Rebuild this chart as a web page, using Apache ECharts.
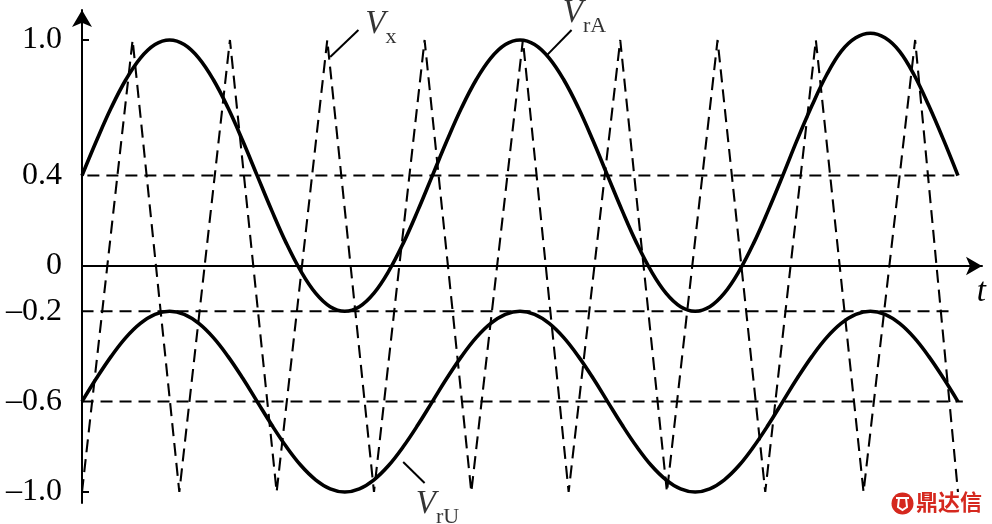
<!DOCTYPE html>
<html><head><meta charset="utf-8">
<script src="https://cdn.jsdelivr.net/npm/echarts@6/dist/echarts.min.js"></script>
<style>html,body{margin:0;padding:0;background:#fff}#c{width:992px;height:524px}</style>
</head><body><div id="c"></div>
<script>
// ---- data ----
const yTickValues = [1.0, 0.4, 0, -0.2, -0.6, -1.0];
const yTickLabels = ['1.0', '0.4', '0', '–0.2', '–0.6', '–1.0'];
const yEndTicks = [1.0, -1.0];

// triangular carrier V_x (vertices)
const triT = [0, 0.52, 1, 1.52, 2, 2.52, 3, 3.52, 4, 4.53, 5, 5.53, 6.01, 6.53, 7.02, 7.54, 8.03, 8.56, 9.0];
const triV = [-1, 1, -1, 1, -1, 1, -1, 1, -1, 1, -1, 1, -1, 1, -1, 1, -1, 1, -1];

// sampled modulating waves
const sinT = [0, 0.15, 0.3, 0.45, 0.6, 0.75, 0.9, 1.05, 1.2, 1.35, 1.5, 1.65,
  1.8, 1.95, 2.1, 2.25, 2.4, 2.55, 2.7, 2.85, 3.0, 3.15, 3.3, 3.45,
  3.6, 3.75, 3.9, 4.05, 4.2, 4.35, 4.5, 4.65, 4.8, 4.95, 5.1, 5.25,
  5.4, 5.55, 5.7, 5.85, 6.0, 6.15, 6.3, 6.45, 6.6, 6.75, 6.9, 7.05,
  7.2, 7.35, 7.5, 7.65, 7.8, 7.95, 8.1, 8.25, 8.4, 8.55, 8.7, 8.85, 9.0];
const vrA = [0.4, 0.555, 0.7, 0.824, 0.92, 0.98, 1.0, 0.98, 0.92, 0.824, 0.7, 0.555,
  0.4, 0.245, 0.1, -0.024, -0.12, -0.18, -0.2, -0.18, -0.12, -0.024, 0.1, 0.245,
  0.4, 0.555, 0.7, 0.824, 0.92, 0.98, 1.0, 0.98, 0.92, 0.824, 0.7, 0.555,
  0.4, 0.245, 0.1, -0.024, -0.12, -0.18, -0.2, -0.18, -0.12, -0.024, 0.1, 0.245,
  0.4, 0.56, 0.71, 0.845, 0.95, 1.01, 1.03, 1.01, 0.95, 0.845, 0.71, 0.56, 0.4];
const vrU = [-0.6, -0.496, -0.4, -0.317, -0.254, -0.214, -0.2, -0.214, -0.254, -0.317, -0.4, -0.496,
  -0.6, -0.704, -0.8, -0.883, -0.946, -0.986, -1.0, -0.986, -0.946, -0.883, -0.8, -0.704,
  -0.6, -0.496, -0.4, -0.317, -0.254, -0.214, -0.2, -0.214, -0.254, -0.317, -0.4, -0.496,
  -0.6, -0.704, -0.8, -0.883, -0.946, -0.986, -1.0, -0.986, -0.946, -0.883, -0.8, -0.704,
  -0.6, -0.496, -0.4, -0.317, -0.254, -0.214, -0.2, -0.214, -0.254, -0.317, -0.4, -0.496, -0.6];

// dashed reference levels and their extents (t units)
const refLevels = [0.4, -0.2, -0.6];
const refFrom = [-0.14, -0.2, -0.2];
const refTo = [8.99, 8.95, 9.05];

// annotation leaders (data coords)
const leaderVx = [[2.55, 0.925], [2.84, 1.044]];
const leaderVrA = [[4.78, 0.934], [5.03, 1.044]];
const leaderVrU = [[3.30, -0.867], [3.52, -0.96]];
const annNames = ['x', 'rA', 'rU'];
const annPos = [[2.91, 1.144], [4.94, 1.192], [3.43, -0.98]];

const zip = (a, b) => a.map((x, i) => [x, b[i]]);

const chart = echarts.init(document.getElementById('c'), null, {renderer: 'canvas'});
const black = '#000';
const serif = '"Liberation Serif", "Times New Roman", serif';

const refSeries = refLevels.map((v, i) => ({
  type: 'line', data: [[refFrom[i], v], [refTo[i], v]], symbol: 'none', clip: false, silent: true,
  lineStyle: {color: black, width: 2, type: [12, 7]}, z: 2
}));
const leaderSeries = [leaderVx, leaderVrA, leaderVrU].map(d => ({
  type: 'line', data: d, symbol: 'none', clip: false, silent: true,
  lineStyle: {color: black, width: 2}, z: 4
}));

chart.setOption({
  animation: false,
  backgroundColor: '#fff',
  grid: {left: 82, right: 10, top: 10, bottom: 21},
  xAxis: {
    type: 'value', min: 0, max: 9.247,
    axisLine: {show: true, onZero: true, symbol: ['none', 'arrow'], symbolSize: [14, 16],
      lineStyle: {color: black, width: 2}},
    axisTick: {show: false}, axisLabel: {show: false}, splitLine: {show: false},
    name: 't', nameLocation: 'end', nameGap: 4,
    nameTextStyle: {fontFamily: serif, fontStyle: 'italic', fontSize: 33, color: black,
      align: 'right', verticalAlign: 'top', padding: [10, 0, 0, 0]}
  },
  yAxis: {
    type: 'value', min: -1.0487, max: 1.1327,
    axisLine: {show: true, onZero: true, symbol: ['none', 'arrow'], symbolSize: [15, 17],
      lineStyle: {color: black, width: 2}},
    axisTick: {show: true, inside: true, length: 7, customValues: yEndTicks,
      lineStyle: {color: black, width: 2}},
    axisLabel: {show: true, customValues: yTickValues, margin: 20,
      fontFamily: serif, fontSize: 32, color: black,
      formatter: v => {
        const i = yTickValues.findIndex(t => Math.abs(t - v) < 1e-6);
        return i >= 0 ? yTickLabels[i] : '';
      }},
    splitLine: {show: false}
  },
  series: [
    ...refSeries,
    {type: 'line', name: 'Vx', data: zip(triT, triV), symbol: 'none', silent: true, clip: false,
      lineStyle: {color: black, width: 2.1, type: [13, 7]}, z: 3},
    {type: 'line', name: 'VrA', data: zip(sinT, vrA), symbol: 'none', smooth: 0.4, silent: true, clip: false,
      lineStyle: {color: black, width: 3.6}, z: 5},
    {type: 'line', name: 'VrU', data: zip(sinT, vrU), symbol: 'none', smooth: 0.4, silent: true, clip: false,
      lineStyle: {color: black, width: 3.6}, z: 5},
    ...leaderSeries,
    {type: 'scatter', symbolSize: 0, clip: false, silent: true, z: 6,
      data: annPos.map((p, i) => ({value: p, name: annNames[i]})),
      label: {show: true, position: [0, 0],
        formatter: p => '{v|V}{s|' + p.name + '}',
        rich: {
          v: {fontFamily: serif, fontStyle: 'italic', fontSize: 33, lineHeight: 33, verticalAlign: 'top', color: black},
          s: {fontFamily: serif, fontSize: 22, lineHeight: 22, padding: [19, 0, 0, 0], verticalAlign: 'top', color: black}
        }}}
  ],
  graphic: [
    {type: 'group', children: [
      {type: 'circle', shape: {cx: 902.5, cy: 503.5, r: 11}, style: {fill: '#d5281e'}},
      {type: 'polyline', shape: {points: [[896, 498], [909, 498]]}, style: {stroke: '#fff', lineWidth: 2}},
      {type: 'polyline', shape: {points: [[899, 498], [898, 507], [902.5, 510], [907, 507], [906, 498]]}, style: {stroke: '#fff', lineWidth: 2, fill: null}},
      {type: 'text', x: 916, y: 491, style: {text: '鼎达信', font: 'bold 22px "Noto Sans CJK SC"', fill: '#d5281e'}}
    ]}
  ]
});
</script>
</body></html>
